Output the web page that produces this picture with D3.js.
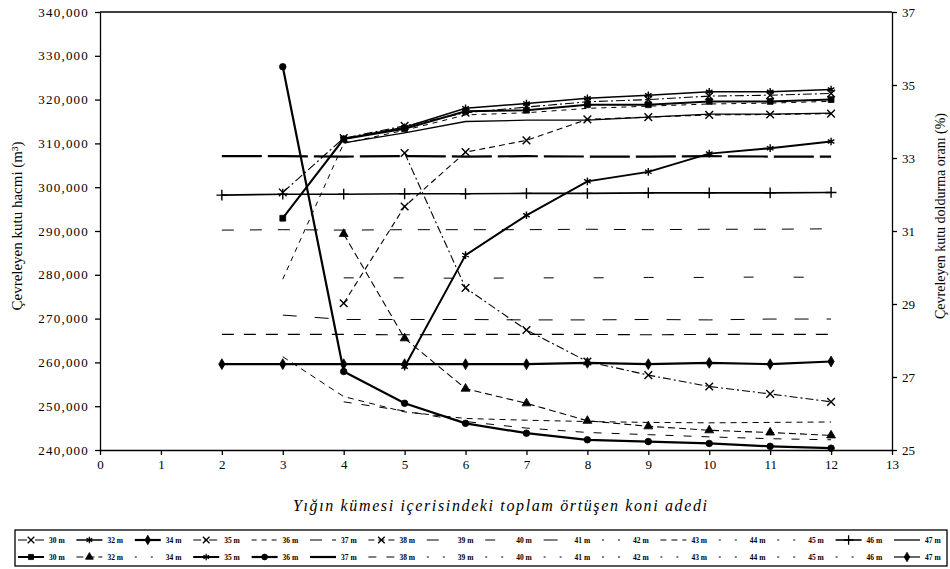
<!DOCTYPE html>
<html>
<head>
<meta charset="utf-8">
<script src="https://cdn.jsdelivr.net/npm/d3@7"></script>
<style>
  body { margin: 0; background: #fff; }
  svg text { font-family: "Liberation Serif", "Times New Roman", serif; fill: #000; }
</style>
</head>
<body>
<svg id="chart" width="950" height="569"></svg>
<script>
// x categories: number of overlapping cones
const xValues = [2, 3, 4, 5, 6, 7, 8, 9, 10, 11, 12];
const xTickLabels = [0, 1, 2, 3, 4, 5, 6, 7, 8, 9, 10, 11, 12, 13];
const volumeTicks = [240000, 250000, 260000, 270000, 280000, 290000, 300000, 310000, 320000, 330000, 340000];
const ratioTicks = [25, 27, 29, 31, 33, 35, 37];
const legendLabels = ["30 m", "32 m", "34 m", "35 m", "36 m", "37 m", "38 m", "39 m",
                      "40 m", "41 m", "42 m", "43 m", "44 m", "45 m", "46 m", "47 m"];

// bounding box volume (m3), left axis
const vol30 = [null, 298800, 311200, 314000, 317000, 318300, 319500, 320000, 320800, 321000, 321400];
const vol32 = [null, null, 311000, 313700, 318000, 319100, 320300, 321000, 321800, 321800, 322300];
const vol34 = [259600, 259600, 259600, 259600, 259600, 259600, 259900, 259600, 259900, 259600, 260200];
const vol35 = [null, null, null, 307800, 277000, 267400, 260200, 257100, 254500, 252800, 251000];
const vol36 = [null, 279000, 310000, 313000, 316500, 317000, 318000, 318500, 319000, 319200, 319600];
const vol37 = [266400, 266400, 266400, 266300, 266400, 266400, 266400, 266300, 266400, 266400, 266400];
const vol38 = [null, null, 273500, 295600, 308000, 310700, 315500, 316000, 316500, 316600, 316800];
const vol39 = [290200, 290300, 290200, 290300, 290300, 290300, 290400, 290300, 290400, 290400, 290500];
const vol40 = [null, null, 279300, 279300, 279200, 279300, 279300, 279400, 279400, 279500, 279400];
const vol41 = [null, 270800, 269800, 269800, 269800, 269700, 269700, 269800, 269700, 269900, 269900];
const vol43 = [null, 261300, 252200, 248700, 247200, 246800, 246500, 246300, 246200, 246300, 246400];
const vol46 = [298200, 298400, 298400, 298500, 298500, 298600, 298600, 298700, 298700, 298700, 298800];
const vol47 = [null, null, 310100, 312400, 315000, 315300, 315300, 316000, 316700, 316700, 316900];

// bounding box fill ratio (%), right axis
const rat30 = [null, 31.35, 33.52, 33.80, 34.28, 34.31, 34.46, 34.46, 34.55, 34.55, 34.60];
const rat32 = [null, null, 30.92, 28.06, 26.68, 26.28, 25.80, 25.65, 25.54, 25.48, 25.40];
const rat35 = [null, null, null, 27.28, 30.34, 31.43, 32.36, 32.62, 33.12, 33.27, 33.45];
const rat36 = [null, 35.50, 27.15, 26.28, 25.73, 25.46, 25.28, 25.23, 25.18, 25.10, 25.05];
const rat37 = [33.05, 33.05, 33.04, 33.05, 33.04, 33.05, 33.04, 33.04, 33.05, 33.04, 33.04];
const rat38 = [null, null, 26.32, 26.07, 25.78, 25.60, 25.48, 25.42, 25.36, 25.31, 25.28];

// series settings: two legend rows, one per axis
const faint = { w: 1, dash: "2,14" };
const volumeSeries = [
  { values: vol30, w: 1.1, dash: "9,3,2,3", sym: "times" },
  { values: vol32, w: 1.5, sym: "asterisk" },
  { values: vol34, w: 2.2, sym: "diamond" },
  { values: vol35, w: 1.1, dash: "8,3,2,3", sym: "times" },
  { values: vol36, w: 1, dash: "5,5" },
  { values: vol37, w: 1.1, dash: "12,10" },
  { values: vol38, w: 1.1, dash: "6,4", sym: "times" },
  { values: vol39, w: 1, dash: "12,16" },
  { values: vol40, w: 1, dash: "10,40" },
  { values: vol41, w: 1, dash: "14,18" },
  { values: null, ...faint },
  { values: vol43, w: 1, dash: "6,5" },
  { values: null, ...faint },
  { values: null, ...faint },
  { values: vol46, w: 1.6, sym: "plus" },
  { values: vol47, w: 1.3 }
];
const ratioSeries = [
  { values: rat30, w: 2, sym: "square" },
  { values: rat32, w: 1.1, dash: "7,4", sym: "triangle" },
  { values: null, ...faint },
  { values: rat35, w: 2, sym: "asterisk" },
  { values: rat36, w: 2.2, sym: "circle" },
  { values: rat37, w: 2.2, dash: "40,6" },
  { values: rat38, w: 1, dash: "8,10" },
  { values: null, ...faint },
  { values: null, ...faint },
  { values: null, ...faint },
  { values: null, ...faint },
  { values: null, ...faint },
  { values: null, ...faint },
  { values: null, ...faint },
  { values: null, ...faint },
  { values: null, w: 1.2, sym: "diamond" }
];

const svg = d3.select("#chart");
const plot = { left: 100, right: 892, top: 12, bottom: 450 };

const x = d3.scaleLinear().domain([0, 13]).range([plot.left, plot.right]);
const yLeft = d3.scaleLinear().domain([240000, 340000]).range([plot.bottom, plot.top]);
const yRight = d3.scaleLinear().domain([25, 37]).range([plot.bottom, plot.top]);

const symbols = {
  circle: d3.symbolCircle, square: d3.symbolSquare, triangle: d3.symbolTriangle,
  diamond: d3.symbolDiamond, times: d3.symbolTimes, plus: d3.symbolPlus, asterisk: d3.symbolAsterisk
};
const strokeSymbols = ["times", "plus", "asterisk"];

// top frame line
svg.append("line")
  .attr("x1", plot.left).attr("x2", plot.right)
  .attr("y1", plot.top).attr("y2", plot.top)
  .attr("stroke", "#000").attr("stroke-width", 1.3);

// axes
const gx = svg.append("g")
  .attr("transform", `translate(0,${plot.bottom})`)
  .call(d3.axisBottom(x).tickValues(xTickLabels).tickFormat(d3.format("d")).tickSize(5).tickSizeOuter(0).tickPadding(5));
const gl = svg.append("g")
  .attr("transform", `translate(${plot.left},0)`)
  .call(d3.axisLeft(yLeft).tickValues(volumeTicks).tickFormat(d3.format(",")).tickSize(5).tickSizeOuter(0).tickPadding(6));
const gr = svg.append("g")
  .attr("transform", `translate(${plot.right},0)`)
  .call(d3.axisRight(yRight).tickValues(ratioTicks).tickFormat(d3.format("d")).tickSize(5).tickSizeOuter(0).tickPadding(5));

[gx, gl, gr].forEach(g => {
  g.selectAll("path, line").attr("stroke", "#000").attr("stroke-width", 1.3);
  g.selectAll("text").attr("font-family", null).style("font-size", "13px");
});
gl.selectAll("text").style("letter-spacing", "1.2px");

// axis titles
svg.append("text")
  .attr("transform", "translate(22,226) rotate(-90)")
  .attr("text-anchor", "middle")
  .style("font-size", "15px")
  .text("Çevreleyen kutu hacmi (m³)");
svg.append("text")
  .attr("transform", "translate(945,216) rotate(-90)")
  .attr("text-anchor", "middle")
  .style("font-size", "14px")
  .text("Çevreleyen kutu doldurma oranı (%)");
svg.append("text")
  .attr("x", 500).attr("y", 511)
  .attr("text-anchor", "middle")
  .attr("textLength", 414).attr("lengthAdjust", "spacing")
  .style("font-size", "16px").style("font-style", "italic")
  .text("Yığın kümesi içerisindeki toplam örtüşen koni adedi");

function drawSeries(s, yScale) {
  if (!s.values) return;
  const pts = xValues.map((xv, i) => ({ x: xv, v: s.values[i] }));
  const line = d3.line().defined(d => d.v != null).x(d => x(d.x)).y(d => yScale(d.v));
  svg.append("path")
    .datum(pts)
    .attr("d", line)
    .attr("fill", "none")
    .attr("stroke", "#000")
    .attr("stroke-width", s.w)
    .attr("stroke-dasharray", s.dash || null);
  if (s.sym) {
    const stroked = strokeSymbols.includes(s.sym);
    svg.append("g").selectAll("path")
      .data(pts.filter(d => d.v != null))
      .join("path")
      .attr("transform", d => `translate(${x(d.x)},${yScale(d.v)})`)
      .attr("d", d3.symbol().type(symbols[s.sym]).size(stroked ? 40 : 34))
      .attr("fill", stroked ? "none" : "#000")
      .attr("stroke", "#000")
      .attr("stroke-width", stroked ? 1.4 : 0.8);
  }
}

volumeSeries.forEach(s => drawSeries(s, yLeft));
ratioSeries.forEach(s => drawSeries(s, yRight));

// legend
const legend = svg.append("g");
legend.append("rect")
  .attr("x", 15).attr("y", 530).attr("width", 932).attr("height", 36)
  .attr("fill", "none").attr("stroke", "#000").attr("stroke-width", 1.3);

[volumeSeries, ratioSeries].forEach((rowSeries, r) => {
  const yRow = r === 0 ? 540 : 557;
  rowSeries.forEach((s, i) => {
    const lx = 49 + i * 58.4;
    legend.append("line")
      .attr("x1", lx - 31).attr("x2", lx - 5)
      .attr("y1", yRow).attr("y2", yRow)
      .attr("stroke", "#000")
      .attr("stroke-width", s.w)
      .attr("stroke-dasharray", s.dash || null);
    if (s.sym) {
      const stroked = strokeSymbols.includes(s.sym);
      legend.append("path")
        .attr("transform", `translate(${lx - 18},${yRow})`)
        .attr("d", d3.symbol().type(symbols[s.sym]).size(stroked ? 30 : 26)())
        .attr("fill", stroked ? "none" : "#000")
        .attr("stroke", "#000")
        .attr("stroke-width", stroked ? 1.3 : 0.8);
    }
    legend.append("text")
      .attr("x", lx).attr("y", yRow + 3)
      .style("font-size", "7.5px").style("font-weight", "bold")
      .text(legendLabels[i]);
  });
});
</script>
</body>
</html>
